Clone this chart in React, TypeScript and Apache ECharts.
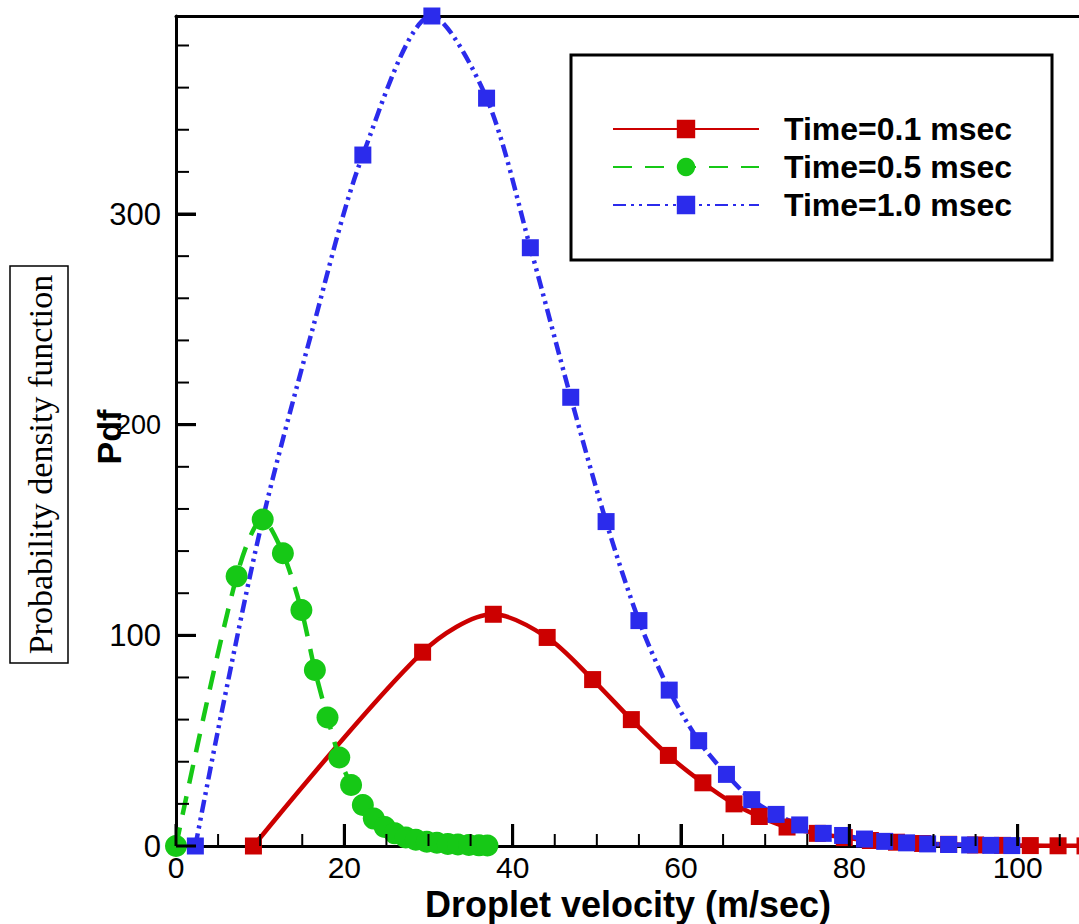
import React, { useEffect, useRef } from 'react';
import * as echarts from 'echarts';

// ---- data ----
const xTicks = [0, 20, 40, 60, 80, 100, 120];
const xMinorTicks = [5, 10, 15, 25, 30, 35, 45, 50, 55, 65, 70, 75, 85, 90, 95, 105];
const yTicks = [0, 100, 200, 300];
const yMinorTicks = [20, 40, 60, 80, 120, 140, 160, 180, 220, 240, 260, 280, 320, 340, 360, 380];
const yMax = 394;

const seriesNames = ['Time=0.1 msec', 'Time=0.5 msec', 'Time=1.0 msec'];

// Time = 0.1 msec (red, solid, squares)
const redX = [9.2, 29.3, 37.7, 44.1, 49.5, 54.1, 58.5, 62.6, 66.3, 69.3, 72.6, 76.2, 79.4, 82.5, 85.6, 88.7, 91.8, 95.0, 98.2, 101.5, 104.8, 108.0, 111.2];
const redY = [0, 92, 110, 99, 79, 60, 43, 30, 20, 14, 9, 6, 4, 2.6, 1.8, 1.2, 0.8, 0.5, 0.3, 0.2, 0.1, 0.05, 0];

// Time = 0.5 msec (green, dashed, circles)
const greenX = [0, 7.2, 10.3, 12.7, 14.9, 16.5, 18.0, 19.4, 20.8, 22.2, 23.5, 24.8, 26.0, 27.3, 28.5, 29.8, 31.0, 32.3, 33.5, 34.8, 36.0, 37.0];
const greenY = [0, 128, 155, 139, 112, 83.5, 61, 42, 29, 19.5, 13, 9, 6, 4, 3, 2, 1.5, 1, 0.7, 0.5, 0.3, 0.2];

// Time = 1.0 msec (blue, dash-dot-dot, squares); mark = 0 -> curve point without marker
const blueX = [2.3, 5.4, 10.3, 16.2, 22.2, 30.4, 36.9, 42.1, 46.9, 51.1, 55.0, 58.6, 62.1, 65.4, 68.4, 71.3, 74.1, 76.9, 79.2, 81.8, 84.2, 86.8, 89.3, 91.8, 94.3, 96.8, 99.3];
const blueY = [0, 63, 155, 245, 328, 394, 355, 284, 213, 154, 107, 74, 50, 34, 22, 15, 10, 6, 5, 3.3, 2.2, 1.5, 1, 0.7, 0.5, 0.3, 0.2];
const blueMark = [1, 0, 0, 0, 1, 1, 1, 1, 1, 1, 1, 1, 1, 1, 1, 1, 1, 1, 1, 1, 1, 1, 1, 1, 1, 1, 1];

const RED = '#cc0000';
const GREEN = '#16c816';
const BLUE = '#2b2bec';

// plot frame (pixels in the 1079 x 924 page)
const W = 1079;
const H = 924;
const GRID = { left: 176, top: 16, right: -107, bottom: 78 };

function build(xs: number[], ys: number[], marks?: number[]) {
  return xs.map((x, i) =>
    marks && !marks[i] ? { value: [x, ys[i]], symbol: 'none' } : [x, ys[i]]
  );
}

// linear axis mapping identical to the grid's value axes
const xMin = xTicks[0];
const xMax = xTicks[xTicks.length - 1];
const plotLeft = GRID.left;
const plotRight = W - GRID.right;
const plotTop = GRID.top;
const plotBottom = H - GRID.bottom;
const xToPx = (v: number) => plotLeft + ((v - xMin) / (xMax - xMin)) * (plotRight - plotLeft);
const yToPx = (v: number) => plotBottom - ((v - yTicks[0]) / (yMax - yTicks[0])) * (plotBottom - plotTop);

function tickElements() {
  const els: any[] = [];
  const addX = (v: number, len: number, w: number) => {
    const x = xToPx(v);
    if (x > W) return;
    els.push({
      type: 'rect',
      silent: true,
      z: 100,
      shape: { x: x - w / 2, y: plotBottom - len, width: w, height: len },
      style: { fill: '#000' },
    });
  };
  const addY = (v: number, len: number, w: number) => {
    const y = yToPx(v);
    els.push({
      type: 'rect',
      silent: true,
      z: 100,
      shape: { x: plotLeft, y: y - w / 2, width: len, height: w },
      style: { fill: '#000' },
    });
  };
  xTicks.forEach((v) => addX(v, 22, 3));
  xMinorTicks.forEach((v) => addX(v, 12, 2));
  yTicks.forEach((v) => addY(v, 20, 3));
  yMinorTicks.forEach((v) => addY(v, 13, 2));
  return els;
}

const boxGroup = {
  type: 'group',
  children: [
    {
      type: 'rect',
      shape: { x: 10, y: 266, width: 58, height: 397 },
      style: { fill: '#fff', stroke: '#000', lineWidth: 1.5 },
    },
    {
      type: 'text',
      x: 40,
      y: 464.5,
      rotation: Math.PI / 2,
      style: {
        text: 'Probability density function',
        fontFamily: '"Liberation Serif", "Times New Roman", serif',
        fontSize: 34,
        fill: '#000',
        align: 'center',
        verticalAlign: 'middle',
      },
    },
  ],
};

export default function App() {
  const ref = useRef<HTMLDivElement>(null);

  useEffect(() => {
    if (!ref.current) return;
    const chart = echarts.init(ref.current, undefined, { renderer: 'svg' });
    const font = '"Liberation Sans", Arial, Helvetica, sans-serif';
    const common = {
      type: 'line',
      smooth: 0.3,
      showAllSymbol: true,
      clip: false,
      silent: true,
      emphasis: { disabled: true },
    };
    chart.setOption({
      animation: false,
      backgroundColor: '#ffffff',
      grid: {
        left: GRID.left,
        top: GRID.top,
        right: GRID.right,
        bottom: GRID.bottom,
        containLabel: false,
        outerBoundsMode: 'none',
      },
      legend: {
        show: true,
        orient: 'vertical',
        left: 571,
        top: 55,
        data: seriesNames,
        itemWidth: 146,
        itemHeight: 23,
        itemGap: 6,
        padding: [58, 40, 39, 41],
        borderColor: '#000',
        borderWidth: 3,
        backgroundColor: '#fff',
        selectedMode: false,
        textStyle: {
          fontFamily: font,
          fontWeight: 'bold',
          fontSize: 32,
          color: '#000',
          lineHeight: 32,
          padding: [0, 0, 0, 20],
        },
      },
      xAxis: [
        {
          type: 'value',
          position: 'bottom',
          min: xMin,
          max: xMax,
          interval: xTicks[1] - xTicks[0],
          name: 'Droplet velocity (m/sec)',
          nameLocation: 'middle',
          nameGap: 37,
          nameTextStyle: {
            fontFamily: font,
            fontWeight: 'bold',
            fontSize: 36,
            color: '#000',
            padding: [0, 106, 0, 0],
          },
          axisLine: { show: true, onZero: false, lineStyle: { color: '#000', width: 3 } },
          axisTick: { show: true, inside: true, length: 22, lineStyle: { color: '#000', width: 3 } },
          axisLabel: {
            show: true,
            fontFamily: font,
            fontSize: 30,
            color: '#000',
            margin: 6,
            formatter: (v: number) => (v <= 100 ? String(v) : ''),
          },
          splitLine: { show: false },
        },
        {
          type: 'value',
          position: 'top',
          min: xMin,
          max: xMax,
          axisLine: { show: true, onZero: false, lineStyle: { color: '#000', width: 3 } },
          axisTick: { show: false },
          axisLabel: { show: false },
          splitLine: { show: false },
        },
      ],
      yAxis: [
        {
          type: 'value',
          position: 'left',
          min: yTicks[0],
          max: yMax,
          interval: yTicks[1] - yTicks[0],
          name: 'Pdf',
          nameLocation: 'middle',
          nameRotate: 90,
          nameGap: 50,
          nameMoveOverlap: false,
          nameTextStyle: {
            fontFamily: font,
            fontWeight: 'bold',
            fontSize: 34,
            color: '#000',
            padding: [0, 12, 0, 0],
          },
          axisLine: { show: true, onZero: false, lineStyle: { color: '#000', width: 3 } },
          axisTick: { show: true, inside: true, length: 20, lineStyle: { color: '#000', width: 3 } },
          axisLabel: {
            show: true,
            fontFamily: font,
            fontSize: 31,
            color: '#000',
            margin: 15,
            formatter: (v: number) =>
              v === 200 ? '{n|200}' : yTicks.indexOf(v) >= 0 ? String(v) : '',
            rich: {
              n: { fontFamily: '"Liberation Sans Narrow", "Liberation Sans", sans-serif', fontSize: 27, color: '#000' },
            },
          },
          splitLine: { show: false },
        },
      ],
      graphic: [boxGroup, ...tickElements()],
      series: [
        {
          ...common,
          name: seriesNames[0],
          data: build(redX, redY),
          symbol: 'rect',
          symbolSize: 17,
          itemStyle: { color: RED },
          lineStyle: { color: RED, width: 4.5, type: 'solid' },
        },
        {
          ...common,
          name: seriesNames[1],
          data: build(greenX, greenY),
          symbol: 'circle',
          symbolSize: 22,
          itemStyle: { color: GREEN },
          lineStyle: { color: GREEN, width: 4.5, type: [19, 13] },
        },
        {
          ...common,
          name: seriesNames[2],
          data: build(blueX, blueY, blueMark),
          symbol: 'rect',
          symbolSize: 17,
          itemStyle: { color: BLUE },
          lineStyle: { color: BLUE, width: 4.5, type: [13, 5, 3, 5, 3, 5] },
        },
      ],
    });

    return () => chart.dispose();
  }, []);

  return (
    <div
      ref={ref}
      style={{ position: 'fixed', left: 0, top: 0, width: W, height: H, background: '#fff' }}
    />
  );
}
